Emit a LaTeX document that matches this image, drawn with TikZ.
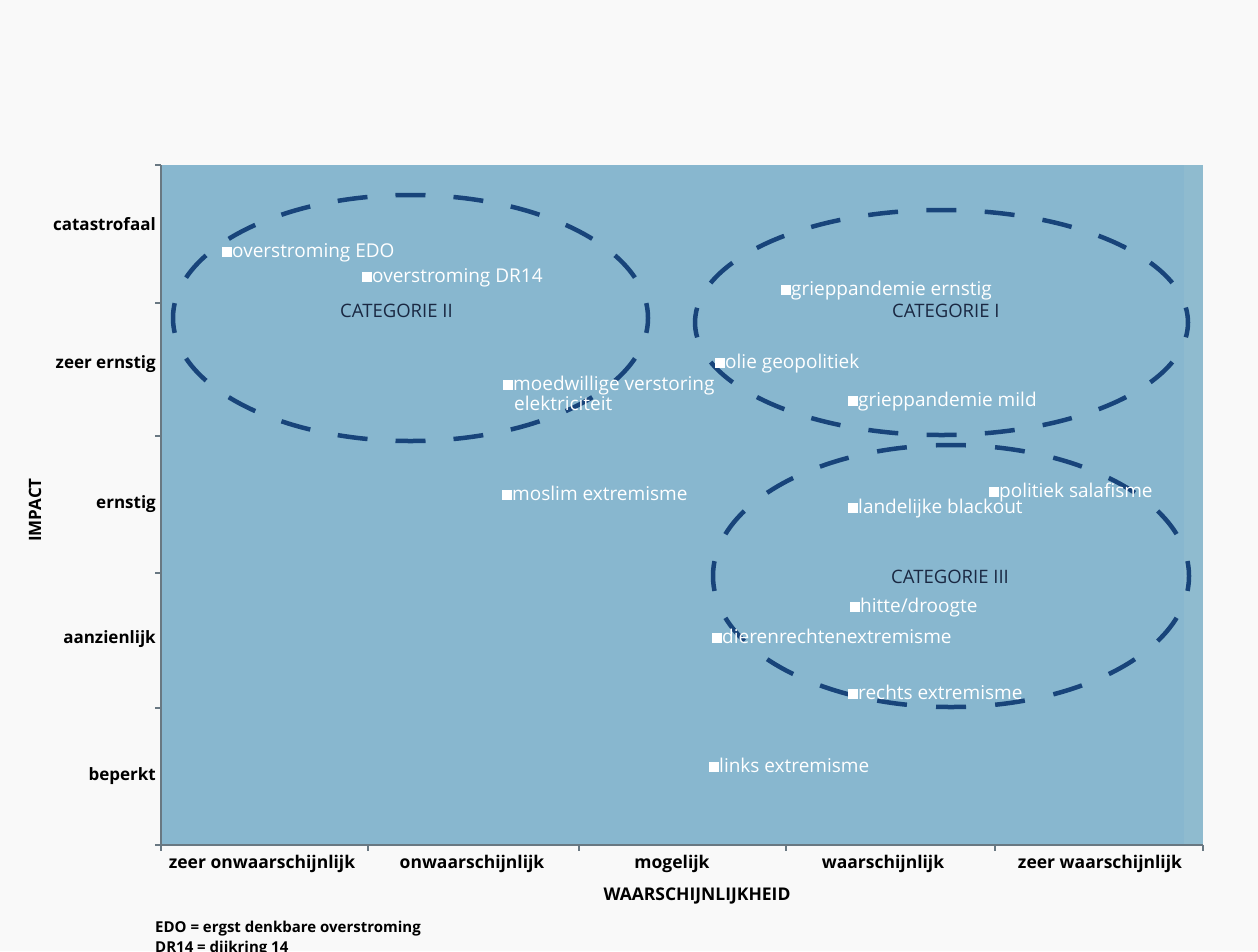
\documentclass[tikz,border=0pt]{standalone}
\usepackage{fontspec}
\setmainfont{Open Sans}
\definecolor{bgcol}{RGB}{249,249,249}
\definecolor{plotfill}{RGB}{136,183,207}
\definecolor{stripcol}{RGB}{143,187,207}
\definecolor{navy}{RGB}{24,68,122}
\definecolor{catcol}{RGB}{26,40,66}
\definecolor{axiscol}{RGB}{105,120,130}
\newcommand{\sq}{\rule{10pt}{10pt}}
\tikzset{
  item/.style={anchor=base west, text=white, inner sep=0pt, font=\fontsize{19}{17}\selectfont},
  ylab/.style={anchor=base east, inner sep=0pt, font=\bfseries\fontsize{17}{20}\selectfont},
  xlab/.style={anchor=base, inner sep=0pt, font=\bfseries\fontsize{17.5}{20}\selectfont},
  catlab/.style={anchor=base west, inner sep=0pt, text=catcol, font=\fontsize{18.5}{20}\selectfont},
  catring/.style={draw=navy, line width=4.5pt},
  axisline/.style={draw=axiscol, line width=1.5pt},
  tickline/.style={draw=axiscol, line width=1.2pt},
  note/.style={anchor=base west, inner sep=0pt, font=\bfseries\fontsize{15}{18}\selectfont}
}
\begin{document}
\begin{tikzpicture}[x=1pt,y=-1pt]
\useasboundingbox (0,0) rectangle (1258,951);
\fill[bgcol] (0,0) rectangle (1258,951);
% plot area
\fill[plotfill] (161,165) rectangle (1203,845);
\fill[stripcol] (1184,165) rectangle (1203,845);
% axes
\coordinate (o) at (161,845);
\coordinate (ytop) at (161,165);
\coordinate (xend) at (1203,845);
\draw[axisline] (ytop) -- (o) -- (xend);
\foreach \yy in {165,303,436,573,708,845} \draw[tickline] (155,\yy) -- (161,\yy);
\foreach \xx in {161,368,579,786,995,1203} \draw[tickline] (\xx,845) -- (\xx,851);
% category rings
\draw[catring, dash pattern=on 30pt off 28.07pt, dash phase=15pt] (410.5,318) ellipse [x radius=237.5, y radius=123];
\draw[catring, dash pattern=on 30pt off 28.37pt, dash phase=15pt] (941.5,322.5) ellipse [x radius=246.5, y radius=112.5];
\draw[catring, dash pattern=on 30pt off 29.19pt, dash phase=15pt] (951,576) ellipse [x radius=238, y radius=131];
% y labels
\node[ylab] (y1) at (156,230) {catastrofaal};
\node[ylab] (y2) at (156,368) {zeer ernstig};
\node[ylab] (y3) at (156,508) {ernstig};
\node[ylab] (y4) at (156,643) {aanzienlijk};
\node[ylab] (y5) at (156,780) {beperkt};
\node[font=\bfseries\fontsize{17}{20}\selectfont, rotate=90, inner sep=0pt] (impact) at (35,510) {IMPACT};
% x labels
\node[xlab] (x1) at (262,868) {zeer onwaarschijnlijk};
\node[xlab] (x2) at (472,868) {onwaarschijnlijk};
\node[xlab] (x3) at (672,868) {mogelijk};
\node[xlab] (x4) at (883,868) {waarschijnlijk};
\node[xlab] (x5) at (1100,868) {zeer waarschijnlijk};
\node[xlab] (xtitle) at (697,900) {WAARSCHIJNLIJKHEID};
% category labels
\node[catlab] (c2) at (340,317) {CATEGORIE II};
\node[catlab] (c1) at (892,317) {CATEGORIE I};
\node[catlab] (c3) at (891,583) {CATEGORIE III};
% items
\node[item] (edo) at (222,257) {\sq overstroming EDO};
\node[item] (dr14) at (362,282) {\sq overstroming DR14};
\node[item] (gre) at (781,295) {\sq grieppandemie ernstig};
\node[item] (olie) at (715,368) {\sq olie geopolitiek};
\node[item] (grm) at (848,406) {\sq grieppandemie mild};
\node[item, align=left] (moed) at (503,410) {\sq moedwillige verstoring\\\hspace{11pt}elektriciteit};
\node[item] (moslim) at (502,500) {\sq moslim extremisme};
\node[item] (salaf) at (989,497) {\sq politiek salafisme};
\node[item] (black) at (848,513) {\sq landelijke blackout};
\node[item] (hitte) at (850,612) {\sq hitte/droogte};
\node[item] (dier) at (712,643) {\sq dierenrechtenextremisme};
\node[item] (rechts) at (848,699) {\sq rechts extremisme};
\node[item] (links) at (709,772) {\sq links extremisme};
% footnotes
\node[note] (n1) at (155,932) {EDO = ergst denkbare overstroming};
\node[note] (n2) at (155,952) {DR14 = dijkring 14};
\end{tikzpicture}
\end{document}
